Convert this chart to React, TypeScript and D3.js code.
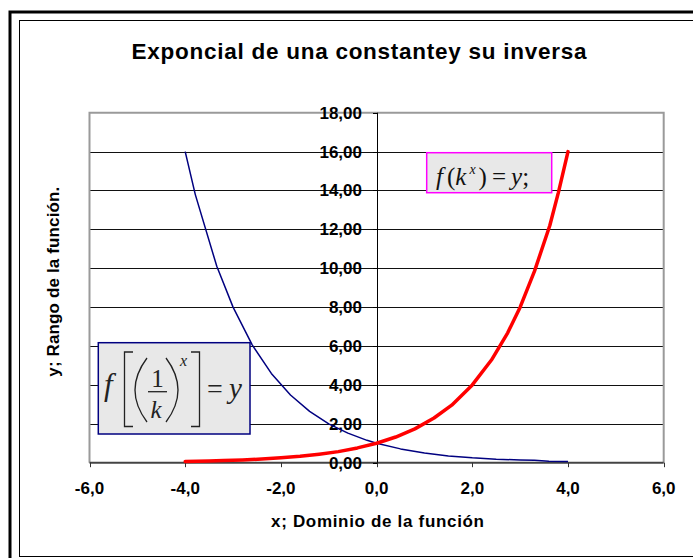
import React from "react";
import * as d3 from "d3";

const title = "Exponcial de una constantey su inversa";
const xTitle = "x; Dominio de la función";
const yTitle = "y; Rango de la función.";

const xTicks = [-6, -4, -2, 0, 2, 4, 6];
const yTicks = [0, 2, 4, 6, 8, 10, 12, 14, 16, 18];

const xRed = [-4.0, -3.5, -3.2, -2.8, -2.4, -2.0, -1.6, -1.2, -0.8, -0.4, 0.0, 0.4, 0.8, 1.2, 1.57, 2.0, 2.4, 2.74, 3.0, 3.3, 3.62, 3.8, 4.0];
const yRed = [0.06, 0.09, 0.11, 0.14, 0.19, 0.25, 0.33, 0.44, 0.57, 0.76, 1.0, 1.32, 1.74, 2.3, 2.96, 4.0, 5.28, 6.68, 8.0, 9.85, 12.2, 13.9, 16.0];

const xBlue = [-4.0, -3.79, -3.34, -3.0, -2.6, -2.2, -1.8, -1.4, -1.0, -0.6, -0.2, 0.0, 0.5, 1.0, 1.5, 2.0, 2.5, 3.0, 3.3, 3.6, 4.0];
const yBlue = [16.0, 13.8, 10.1, 8.0, 6.06, 4.59, 3.48, 2.64, 2.0, 1.52, 1.15, 1.0, 0.71, 0.5, 0.35, 0.25, 0.18, 0.14, 0.13, 0.07, 0.06];

const fmtX = (v: number) => v.toFixed(1).replace(".", ",");
const fmtY = (v: number) => v.toFixed(2).replace(".", ",");

export default function App() {
  const W = 693, H = 558;
  const x = d3.scaleLinear().domain([-6, 6]).range([89.5, 663.7]);
  const y = d3.scaleLinear().domain([0, 18]).range([462.7, 112.7]);
  const line = d3.line<[number, number]>().x(d => x(d[0])).y(d => y(d[1]));
  const red: [number, number][] = xRed.map((v, i) => [v, yRed[i]]);
  const blue: [number, number][] = xBlue.map((v, i) => [v, yBlue[i]]);
  const sans = "'Liberation Sans', Arial, sans-serif";
  const serif = "'Liberation Serif', 'Times New Roman', serif";
  const x0 = x(0);
  const yB = y(0);

  return (
    <div style={{ position: "absolute", left: 0, top: 0 }}>
      <svg width={W} height={H} style={{ display: "block", background: "#fff" }}>
        {/* frames */}
        <path d={`M10,${H + 5} L10,12 L${W + 5},12`} fill="none" stroke="#000" strokeWidth={3} />
        <rect x={19.5} y={20.5} width={W} height={536} fill="none" stroke="#000" strokeWidth={1} />

        {/* title */}
        <text x={359} y={59} textAnchor="middle" fontFamily={sans} fontWeight="bold" fontSize={22.5}
          textLength={455} lengthAdjust="spacing">{title}</text>

        {/* gridlines */}
        {yTicks.filter(t => t > 0 && t < 18).map(t => (
          <line key={"g" + t} x1={x(-6)} x2={x(6)} y1={Math.round(y(t)) + 0.5} y2={Math.round(y(t)) + 0.5} stroke="#111" strokeWidth={1} />
        ))}
        {/* plot border */}
        <path d={`M${x(-6)},${yB} L${x(-6)},${y(18)} L${x(6)},${y(18)} L${x(6)},${yB}`} fill="none" stroke="#9a9a9a" strokeWidth={2} />

        {/* x axis */}
        <line x1={x(-6)} x2={x(6)} y1={yB} y2={yB} stroke="#444" strokeWidth={2} />
        {xTicks.map(t => (
          <line key={"xt" + t} x1={Math.round(x(t)) + 0.5} x2={Math.round(x(t)) + 0.5} y1={yB} y2={yB + 4.5} stroke="#333" strokeWidth={1} />
        ))}
        {xTicks.map(t => (
          <text key={"xl" + t} x={x(t)} y={493.5} textAnchor="middle" fontFamily={sans} fontWeight="bold" fontSize={17}>{fmtX(t)}</text>
        ))}

        {/* y axis */}
        <line x1={Math.round(x0) + 0.5} x2={Math.round(x0) + 0.5} y1={y(18)} y2={yB} stroke="#000" strokeWidth={1} />
        {yTicks.map(t => (
          <line key={"yt" + t} x1={Math.round(x0) - 4} x2={Math.round(x0) + 0.5} y1={Math.round(y(t)) + 0.5} y2={Math.round(y(t)) + 0.5} stroke="#000" strokeWidth={1} />
        ))}
        {yTicks.map(t => (
          <text key={"yl" + t} x={362} y={y(t) + 6} textAnchor="end" fontFamily={sans} fontWeight="bold" fontSize={17}>{fmtY(t)}</text>
        ))}

        {/* axis titles */}
        <text x={377.5} y={527} textAnchor="middle" fontFamily={sans} fontWeight="bold" fontSize={17}
          textLength={213} lengthAdjust="spacing">{xTitle}</text>
        <text transform="translate(59.3,281.7) rotate(-90)" textAnchor="middle" fontFamily={sans} fontWeight="bold" fontSize={17}
          textLength={190} lengthAdjust="spacing">{yTitle}</text>

        {/* curves */}
        <path d={line(blue) || ""} fill="none" stroke="#000080" strokeWidth={1.5} strokeLinejoin="round" />
        <path d={line(red) || ""} fill="none" stroke="#ff0000" strokeWidth={3.5} strokeLinejoin="round" strokeLinecap="round" />

        {/* magenta formula box */}
        <rect x={426.7} y={152.7} width={125} height={40} fill="#e8e8e8" stroke="#ff00ff" strokeWidth={1.5} />
        <text x={436} y={185} fontFamily={serif} fontSize={25} fill="#111">
          <tspan fontStyle="italic">f</tspan>
          <tspan dx={4}>(</tspan>
          <tspan fontStyle="italic">k</tspan>
          <tspan dx={3} dy={-11} fontStyle="italic" fontSize={14}>x</tspan>
          <tspan dx={3} dy={11}>)</tspan>
          <tspan dx={5}>=</tspan>
          <tspan dx={5} fontStyle="italic">y</tspan>
          <tspan>;</tspan>
        </text>

        {/* navy formula box */}
        <rect x={98.3} y={342.7} width={151.7} height={91.3} fill="#e8e8e8" stroke="#000080" strokeWidth={1.5} />
        <g fill="none" stroke="#222" strokeWidth={1.3}>
          <path d="M133,352 L124.5,352 L124.5,426.5 L133,426.5" />
          <path d="M191,352 L199.5,352 L199.5,426.5 L191,426.5" />
          <path d="M147,358 Q123,390 147,422" />
          <path d="M166,358 Q190,390 166,422" />
          <line x1={148} x2={167} y1={391.7} y2={391.7} />
        </g>
        <text x={104} y={395} fontFamily={serif} fontStyle="italic" fontSize={31} fill="#222">f</text>
        <text x={207} y={398} fontFamily={serif} fontSize={28} fill="#222">=</text>
        <text x={229} y={398} fontFamily={serif} fontStyle="italic" fontSize={29} fill="#222">y</text>
        <text x={157.5} y={387} textAnchor="middle" fontFamily={serif} fontSize={25} fill="#222">1</text>
        <text x={156} y={417.5} textAnchor="middle" fontFamily={serif} fontStyle="italic" fontSize={25} fill="#222">k</text>
        <text x={180} y={366} fontFamily={serif} fontStyle="italic" fontSize={16} fill="#222">x</text>
      </svg>
    </div>
  );
}
